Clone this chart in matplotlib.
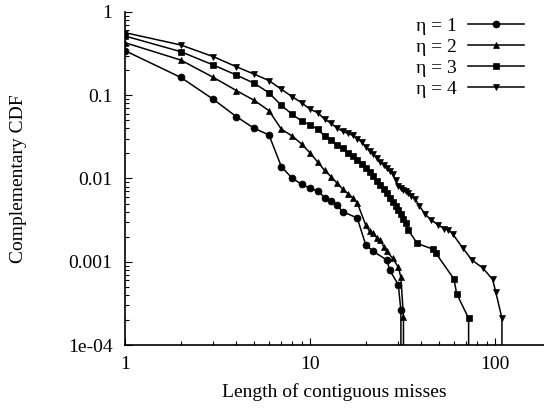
import matplotlib
matplotlib.use('Agg')
import matplotlib.pyplot as plt
from matplotlib.ticker import LogLocator, FixedLocator, FixedFormatter

# CCDF of contiguous miss lengths, one series per eta (0 = no longer observed)
x_eta1 = [1, 2, 3, 4, 5, 6, 7, 8, 9, 10, 11, 12, 13, 14, 15, 18, 20, 22, 26, 27, 30, 31, 31]
y_eta1 = [0.343, 0.164, 0.0895, 0.0553, 0.040, 0.0334, 0.0139, 0.0101, 0.00853, 0.00764,
          0.0071, 0.0059, 0.00543, 0.00482, 0.0040, 0.00336, 0.0016, 0.00133, 0.00105,
          0.00079, 0.00053, 0.00026, 0]

x_eta2 = [1, 2, 3, 4, 5, 6, 7, 8, 9, 10, 11, 12, 13, 14, 15, 16, 17, 18, 20, 21, 22, 23,
          24, 25, 26, 28, 30, 31, 32, 32]
y_eta2 = [0.428, 0.265, 0.164, 0.114, 0.0866, 0.0653, 0.0391, 0.0325, 0.0260, 0.0203,
          0.0158, 0.0125, 0.0105, 0.0088, 0.0075, 0.0066, 0.0059, 0.0051, 0.00277, 0.00231,
          0.0022, 0.00192, 0.00183, 0.00152, 0.00133, 0.0011, 0.00086, 0.00065, 0.000218, 0]

x_eta3 = [1, 2, 3, 4, 5, 6, 7, 8, 9, 10, 11, 12, 13, 14, 15, 16, 17, 18, 19, 20, 21, 22,
          23, 24, 25, 26, 27, 28, 29, 30, 31, 32, 33, 34, 38, 46, 48, 60, 62, 72, 72]
y_eta3 = [0.515, 0.334, 0.231, 0.175, 0.139, 0.107, 0.0755, 0.0591, 0.0491, 0.044,
          0.0391, 0.0325, 0.0291, 0.0253, 0.0231, 0.0205, 0.0185, 0.0165, 0.0148, 0.0135,
          0.0120, 0.0108, 0.0094, 0.0084, 0.0075, 0.0067, 0.0059, 0.0052, 0.0047, 0.0042,
          0.0037, 0.0033, 0.0029, 0.0024, 0.00166, 0.00142, 0.00126, 0.00062, 0.000415,
          0.000209, 0]

x_eta4 = [1, 2, 3, 4, 5, 6, 7, 8, 9, 10, 11, 12, 13, 14, 15, 16, 17, 18, 19, 20, 21, 22,
          23, 24, 25, 26, 27, 28, 29, 30, 31, 32, 33, 34, 35, 37, 39, 42, 45, 49, 53, 56,
          59, 67, 75, 86, 97, 101, 109, 109]
y_eta4 = [0.565, 0.402, 0.291, 0.220, 0.179, 0.150, 0.118, 0.0962, 0.0815, 0.0679,
          0.0618, 0.0515, 0.0461, 0.0402, 0.0370, 0.0350, 0.0330, 0.0300, 0.0277, 0.0240,
          0.0215, 0.0195, 0.0175, 0.0158, 0.0145, 0.0132, 0.0122, 0.0113, 0.0095, 0.0082,
          0.0076, 0.0073, 0.0070, 0.0067, 0.0062, 0.0057, 0.0047, 0.0037, 0.0032, 0.0028,
          0.0025, 0.00242, 0.00216, 0.00146, 0.00105, 0.00084, 0.000615, 0.00043, 0.00021, 0]

labels = ['\u03b7 = 1', '\u03b7 = 2', '\u03b7 = 3', '\u03b7 = 4']
y_ticks = [1e-4, 1e-3, 1e-2, 1e-1, 1]
y_tick_labels = ['1e-04', '0.001', '0.01', '0.1', '1']
x_ticks = [1, 10, 100]
x_tick_labels = ['1', '10', '100']

plt.rcParams['font.family'] = ['Liberation Serif', 'DejaVu Serif']
plt.rcParams['font.size'] = 14

fig = plt.figure(figsize=(5.44, 4.09), dpi=100)
ax = fig.add_axes([125 / 544, 64 / 409, 419 / 544, 333 / 409])

series = [(x_eta1, y_eta1, 'o', 5.0),
          (x_eta2, y_eta2, '^', 4.2),
          (x_eta3, y_eta3, 's', 5.0),
          (x_eta4, y_eta4, 'v', 4.2)]
for (xs, ys, mk, ms), lab in zip(series, labels):
    ax.plot(xs, ys, color='black', linewidth=1.1, marker=mk, markersize=ms,
            markeredgewidth=0.5, label=lab)

ax.set_xscale('log')
ax.set_yscale('log', nonpositive='clip')
ax.set_xlim(1, 184)
ax.set_ylim(1e-4, 1)

ax.yaxis.set_major_locator(FixedLocator(y_ticks))
ax.yaxis.set_major_formatter(FixedFormatter(y_tick_labels))
ax.xaxis.set_major_locator(FixedLocator(x_ticks))
ax.xaxis.set_major_formatter(FixedFormatter(x_tick_labels))
ax.xaxis.set_minor_locator(LogLocator(base=10, subs=range(2, 10)))
ax.yaxis.set_minor_locator(LogLocator(base=10, subs=range(2, 10)))
ax.xaxis.set_minor_formatter(plt.NullFormatter())
ax.yaxis.set_minor_formatter(plt.NullFormatter())

ax.spines['top'].set_visible(False)
ax.spines['right'].set_visible(False)
ax.spines['left'].set_linewidth(1.2)
ax.spines['bottom'].set_linewidth(1.2)
ax.tick_params(which='both', direction='in', top=False, right=False, width=0.8)
ax.tick_params(which='major', length=5)
ax.tick_params(which='minor', length=3)
ax.tick_params(axis='y', which='major', pad=9)
ax.tick_params(axis='x', which='major', pad=8)

ax.set_xlabel('Length of contiguous misses')
ax.set_ylabel('Complementary CDF')
ax.xaxis.set_label_coords(0.5, -0.115)
ax.yaxis.set_label_coords(-0.235, 0.5)

ax.legend(loc='upper right', bbox_to_anchor=(0.97, 1.007), frameon=False,
          markerfirst=False, handlelength=2.85, handletextpad=0.6,
          labelspacing=0.17, borderaxespad=0.0)

plt.savefig('out.png', dpi=100)
